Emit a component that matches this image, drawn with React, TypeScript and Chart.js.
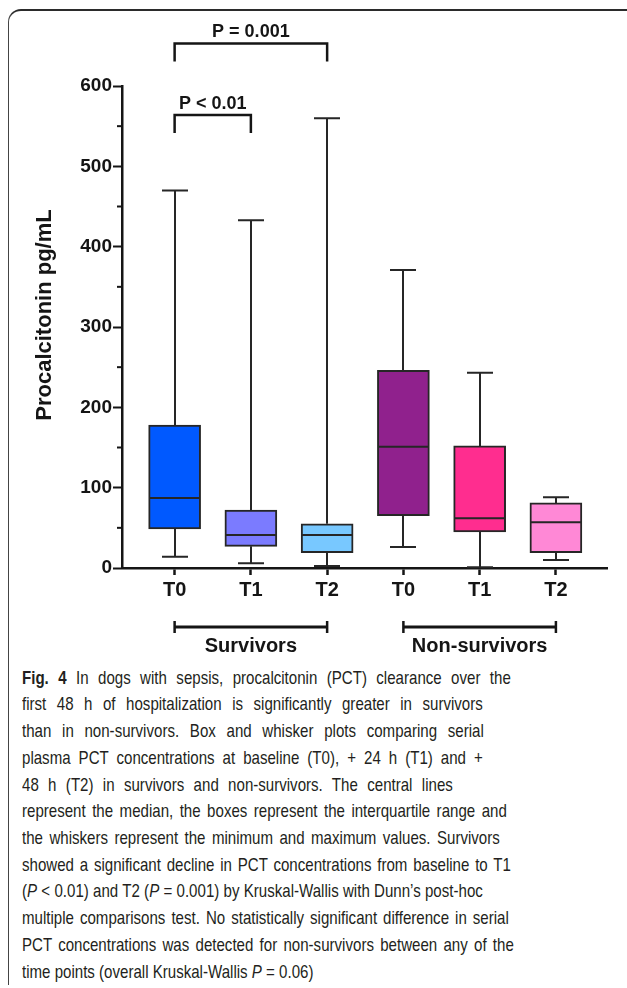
import React, { useEffect, useRef } from "react";
import { Chart, registerables } from "chart.js";

Chart.register(...registerables);

// ---------- data ----------
const categories = ["T0", "T1", "T2", "T0", "T1", "T2"];
const minValues = [14, 6, 2.5, 26, 1, 10];
const q1Values = [48.5, 27, 19, 65, 45, 19];
const medianValues = [87, 41, 41, 151, 62, 57];
const q3Values = [178, 72, 55, 246, 152, 81];
const maxValues = [470, 433, 560, 371, 243, 88];
const boxColors = ["#0059FF", "#7B7BFF", "#78C8FF", "#90218D", "#FF2D8F", "#FF88D6"];

const yTickValues = [0, 100, 200, 300, 400, 500, 600];
const yMinorTickValues = [50, 150, 250, 350, 450, 550];

const groupLabels = ["Survivors", "Non-survivors"];
const groupFrom = [0, 3];
const groupTo = [2, 5];

const sigLabels = ["P < 0.01", "P = 0.001"];
const sigFrom = [0, 0];
const sigTo = [1, 2];
const sigLevels = [564, 653];

const yTitle = "Procalcitonin pg/mL";

const captionLines = [
  "#Fig. 4# In dogs with sepsis, procalcitonin (PCT) clearance over the",
  "first 48 h of hospitalization is significantly greater in survivors",
  "than in non-survivors. Box and whisker plots comparing serial",
  "plasma PCT concentrations at baseline (T0), + 24 h (T1) and +",
  "48 h (T2) in survivors and non-survivors. The central lines",
  "represent the median, the boxes represent the interquartile range and",
  "the whiskers represent the minimum and maximum values. Survivors",
  "showed a significant decline in PCT concentrations from baseline to T1",
  "(*P* < 0.01) and T2 (*P* = 0.001) by Kruskal-Wallis with Dunn’s post-hoc",
  "multiple comparisons test. No statistically significant difference in serial",
  "PCT concentrations was detected for non-survivors between any of the",
  "time points (overall Kruskal-Wallis *P* = 0.06)",
];
const captionRight = [510, 482, 483, 482, 452, 506, 499, 510, 482, 508, 513, 0];

const FONT = "'Liberation Sans', Arial, Helvetica, sans-serif";
const CAPTION_FONT = "'Liberation Sans', Arial, sans-serif";
const CAPTION_SIZE = 18.5;
const INK = "#151515";
const LINE = "#262626";

const extrasPlugin = {
  id: "boxExtras",
  afterDatasetsDraw(chart: any) {
    const { ctx, chartArea } = chart;
    const x = chart.scales.x;
    const y = chart.scales.y;
    ctx.save();
    ctx.lineCap = "butt";
    ctx.strokeStyle = LINE;
    ctx.lineWidth = 2;
    categories.forEach((_, i) => {
      const cx = Math.round(x.getPixelForValue(i));
      const pMax = y.getPixelForValue(maxValues[i]);
      const pMin = y.getPixelForValue(minValues[i]);
      const pQ1 = y.getPixelForValue(q1Values[i]);
      const pQ3 = y.getPixelForValue(q3Values[i]);
      const pMed = y.getPixelForValue(medianValues[i]);
      ctx.beginPath();
      ctx.moveTo(cx, pQ3);
      ctx.lineTo(cx, pMax);
      ctx.moveTo(cx - 13, pMax);
      ctx.lineTo(cx + 13, pMax);
      ctx.moveTo(cx, pQ1);
      ctx.lineTo(cx, pMin);
      ctx.moveTo(cx - 13, pMin);
      ctx.lineTo(cx + 13, pMin);
      ctx.moveTo(cx - 25, pMed);
      ctx.lineTo(cx + 25, pMed);
      ctx.stroke();
    });
    ctx.strokeStyle = INK;
    ctx.lineWidth = 2;
    yMinorTickValues.forEach((v) => {
      const py = y.getPixelForValue(v);
      ctx.beginPath();
      ctx.moveTo(chartArea.left - 5, py);
      ctx.lineTo(chartArea.left, py);
      ctx.stroke();
    });
    ctx.lineWidth = 2.5;
    ctx.fillStyle = INK;
    ctx.font = `bold 18px ${FONT}`;
    ctx.textAlign = "center";
    ctx.textBaseline = "middle";
    sigLabels.forEach((label, k) => {
      const x1 = x.getPixelForValue(sigFrom[k]);
      const x2 = x.getPixelForValue(sigTo[k]);
      const py = y.getPixelForValue(sigLevels[k]);
      ctx.beginPath();
      ctx.moveTo(x1, py + 18);
      ctx.lineTo(x1, py);
      ctx.lineTo(x2, py);
      ctx.lineTo(x2, py + 18);
      ctx.stroke();
      ctx.fillText(label, (x1 + x2) / 2, py - 11);
    });
    ctx.font = `bold 20px ${FONT}`;
    const gy = chartArea.bottom + 59;
    groupLabels.forEach((label, k) => {
      const x1 = x.getPixelForValue(groupFrom[k]);
      const x2 = x.getPixelForValue(groupTo[k]);
      ctx.lineWidth = 3;
      ctx.beginPath();
      ctx.moveTo(x1, gy);
      ctx.lineTo(x2, gy);
      ctx.stroke();
      ctx.lineWidth = 2.5;
      ctx.beginPath();
      ctx.moveTo(x1, gy - 6);
      ctx.lineTo(x1, gy + 6);
      ctx.moveTo(x2, gy - 6);
      ctx.lineTo(x2, gy + 6);
      ctx.stroke();
      ctx.fillText(label, (x1 + x2) / 2, gy + 19);
    });
    ctx.save();
    ctx.translate(45, 315);
    ctx.rotate(-Math.PI / 2);
    ctx.font = `bold 22px ${FONT}`;
    ctx.fillText(yTitle, 0, 0);
    ctx.restore();
    ctx.restore();
  },
};

function splitLine(text: string) {
  const out: { t: string; kind: string }[] = [];
  const re = /(#[^#]+#|\*[^*]+\*)/g;
  let last = 0;
  let m: RegExpExecArray | null;
  while ((m = re.exec(text))) {
    if (m.index > last) out.push({ t: text.slice(last, m.index), kind: "n" });
    const t = m[0];
    out.push({ t: t.slice(1, -1), kind: t[0] === "#" ? "b" : "i" });
    last = m.index + t.length;
  }
  if (last < text.length) out.push({ t: text.slice(last), kind: "n" });
  return out;
}

function measureLine(text: string) {
  const c = document.createElement("canvas").getContext("2d");
  if (!c) return 1;
  let w = 0;
  splitLine(text).forEach((seg) => {
    const style = seg.kind === "b" ? "bold " : seg.kind === "i" ? "italic " : "";
    c.font = `${style}${CAPTION_SIZE}px ${CAPTION_FONT}`;
    w += c.measureText(seg.t).width;
  });
  return w;
}

function renderLine(text: string) {
  return splitLine(text).map((seg, k) =>
    seg.kind === "b" ? <b key={k}>{seg.t}</b> : seg.kind === "i" ? <i key={k}>{seg.t}</i> : <span key={k}>{seg.t}</span>
  );
}

export default function App() {
  const canvasRef = useRef<HTMLCanvasElement | null>(null);

  useEffect(() => {
    const canvas = canvasRef.current;
    if (!canvas) return;
    const chart = new Chart(canvas, {
      type: "bar",
      data: {
        datasets: [
          {
            data: categories.map((_, i) => ({ x: i, y: [q1Values[i], q3Values[i]] })) as any,
            backgroundColor: boxColors,
            borderColor: LINE,
            borderWidth: 2,
            borderSkipped: false,
            barThickness: 52,
          },
        ],
      },
      options: {
        animation: false,
        responsive: false,
        maintainAspectRatio: false,
        layout: { padding: { top: 86, right: 20, bottom: 0, left: 0 } },
        plugins: { legend: { display: false }, tooltip: { enabled: false }, title: { display: false } },
        scales: {
          x: {
            type: "linear",
            offset: false,
            min: -0.69,
            max: 5.67,
            afterBuildTicks: (s: any) => {
              s.ticks = categories.map((_, i) => ({ value: i }));
            },
            afterFit: (s: any) => {
              s.height = 92;
            },
            grid: {
              display: true,
              offset: false,
              drawOnChartArea: false,
              drawTicks: true,
              tickLength: 7,
              tickWidth: 2.5,
              tickColor: INK,
            },
            border: { display: true, width: 2.5, color: INK },
            ticks: {
              autoSkip: false,
              maxRotation: 0,
              padding: 3,
              color: INK,
              font: { family: FONT, size: 20, weight: "bold" },
              callback: (v: any) => categories[Math.round(Number(v))] ?? "",
            },
          },
          y: {
            type: "linear",
            min: 0,
            max: 600,
            afterBuildTicks: (s: any) => {
              s.ticks = yTickValues.map((v) => ({ value: v }));
            },
            afterFit: (s: any) => {
              s.width = 122;
            },
            grid: {
              display: true,
              drawOnChartArea: false,
              drawTicks: true,
              tickLength: 9,
              tickWidth: 2,
              tickColor: INK,
            },
            border: { display: true, width: 2.5, color: INK },
            ticks: {
              padding: 1,
              color: INK,
              font: { family: FONT, size: 19, weight: "bold" },
            },
          },
        },
      },
      plugins: [extrasPlugin],
    });
    return () => chart.destroy();
  }, []);

  const lineH = 26.73;
  const left = 22;
  const natural = captionLines.map((t) => measureLine(t));
  let scale = 1;
  captionLines.forEach((_, i) => {
    if (i === captionLines.length - 1) return;
    const r = (captionRight[i] - left) / natural[i];
    if (r < scale) scale = r;
  });

  return (
    <div style={{ position: "absolute", left: 0, top: 0, width: 627, height: 988, background: "#fff", overflow: "hidden" }}>
      <div
        style={{
          position: "absolute",
          left: 8,
          top: 9,
          width: 640,
          height: 976,
          borderTop: "2px solid #2b2b2b",
          borderLeft: "1.5px solid #444",
          borderTopLeftRadius: 13,
          boxSizing: "border-box",
        }}
      />
      <canvas ref={canvasRef} width={627} height={660} style={{ position: "absolute", left: 0, top: 0, width: 627, height: 660 }} />
      {captionLines.map((t, i) => {
        const isLast = i === captionLines.length - 1;
        const w = isLast ? natural[i] + 4 : (captionRight[i] - left) / scale + 1;
        return (
          <div
            key={i}
            style={{
              position: "absolute",
              left,
              top: 678 + i * lineH - lineH / 2,
              width: w,
              height: lineH,
              lineHeight: `${lineH}px`,
              textAlign: isLast ? "left" : "justify",
              textAlignLast: isLast ? "left" : "justify",
              fontFamily: CAPTION_FONT,
              fontSize: CAPTION_SIZE,
              color: "#231f20",
              transform: `scaleX(${scale})`,
              transformOrigin: "0 50%",
            }}
          >
            {renderLine(t)}
          </div>
        );
      })}
    </div>
  );
}
